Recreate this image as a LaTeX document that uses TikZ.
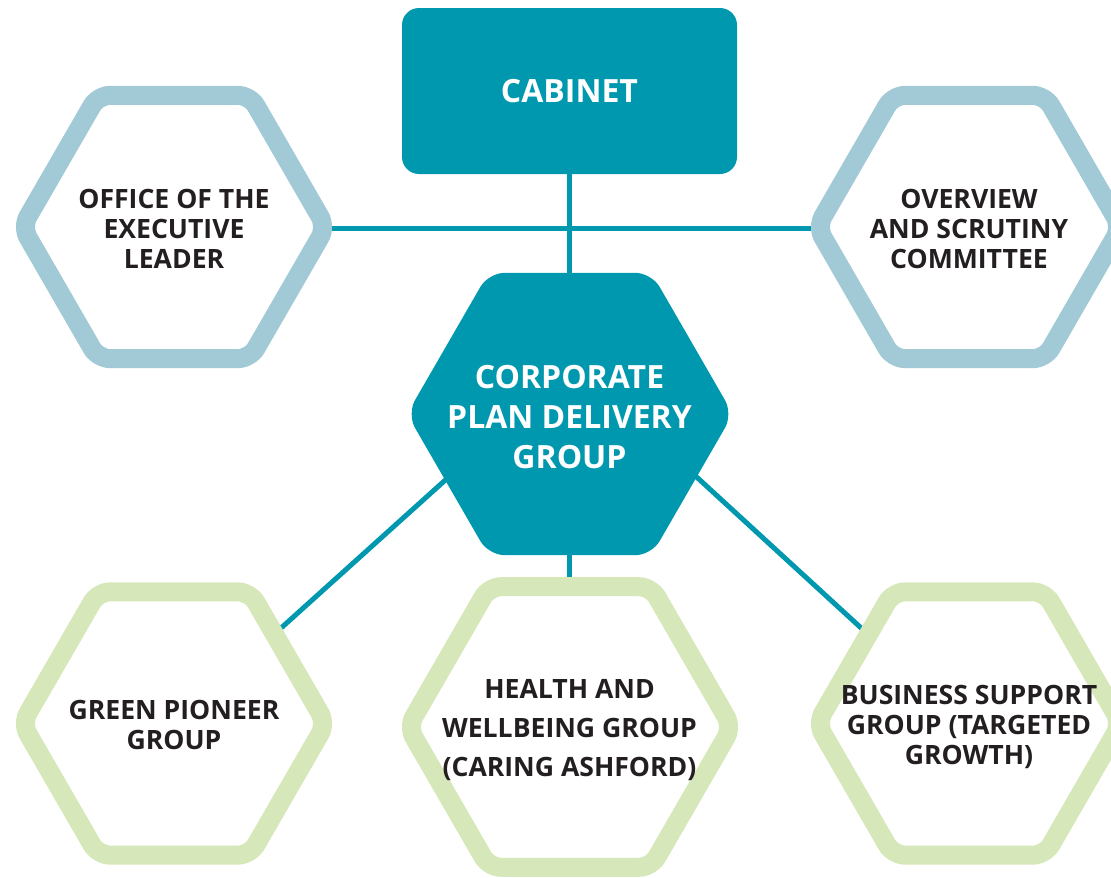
\documentclass[tikz,border=0pt]{standalone}
\usepackage{fontspec}
\setmainfont{Open Sans}
\usetikzlibrary{backgrounds}
\definecolor{mainteal}{HTML}{0098AE}
\definecolor{ringblue}{HTML}{A2CAD6}
\definecolor{ringgreen}{HTML}{D6E8B9}
\definecolor{txtdark}{HTML}{231F20}
\newcommand\hexshape[4]{% x, y, radius, style
  \path[shift={(#1,#2)}, #4] (0,{0.8660254*#3}) -- (120:#3) -- (180:#3) -- (240:#3) -- (300:#3) -- (0:#3) -- (60:#3) -- cycle;}
\tikzset{
  ringhex/.style={draw=#1, line width=19pt, fill=white, rounded corners=12pt},
  solidhex/.style={fill=mainteal, rounded corners=16pt},
  conn/.style={draw=mainteal, line width=5pt},
  darktext/.style={text=txtdark, align=center, font=\fontsize{26.6}{30}\selectfont\bfseries, inner sep=0pt},
  whitetext/.style={text=white, align=center, inner sep=0pt},
}
\begin{document}
\begin{tikzpicture}[x=1pt, y=-1pt]
\useasboundingbox (0,0) rectangle (1111,878);
\begin{scope}
\clip (0,0) rectangle (1111,878);
% outer hexagons
\hexshape{174}{227}{152}{ringhex=ringblue}
\hexshape{969}{227}{152}{ringhex=ringblue}
\hexshape{174}{723.5}{152}{ringhex=ringgreen}
\hexshape{570}{727}{162}{ringhex=ringgreen}
\hexshape{969}{723.5}{152}{ringhex=ringgreen}
% central hexagon
\hexshape{570}{414}{163}{solidhex}
\end{scope}
% cabinet
\node[fill=mainteal, rounded corners=17pt, minimum width=335pt, minimum height=166pt,
      text=white, font=\fontsize{32}{38}\selectfont\bfseries] (cabinet) at (569.5,91) {CABINET};
% texts
\node[whitetext, font=\fontsize{32}{40}\selectfont\bfseries] (cpdg) at (569.5,417) {CORPORATE\\PLAN DELIVERY\\GROUP};
\node[darktext] (office) at (174,228.5) {OFFICE OF THE\\EXECUTIVE\\LEADER};
\node[darktext] (overview) at (969,228.5) {OVERVIEW\\AND SCRUTINY\\COMMITTEE};
\node[darktext] (green) at (174,724.5) {GREEN PIONEER\\GROUP};
\node[darktext, font=\fontsize{26.6}{39}\selectfont\bfseries] (health) at (569.5,730) {HEALTH AND\\WELLBEING GROUP\\(CARING ASHFORD)};
\node[darktext] (business) at (969,727) {BUSINESS SUPPORT\\GROUP (TARGETED\\GROWTH)};
\coordinate (cpdgSW) at (472,456);
\coordinate (cpdgSE) at (671,453.5);
% connectors
\begin{pgfonlayer}{background}
\draw[conn] (office.center) -- (overview.center);
\draw[conn] (cabinet.center) -- (cpdg.center);
\draw[conn] (cpdg.center) -- (health.center);
\draw[conn] (cpdgSW) -- (green.center);
\draw[conn] (cpdgSE) -- (business.center);
\end{pgfonlayer}
\end{tikzpicture}
\end{document}
